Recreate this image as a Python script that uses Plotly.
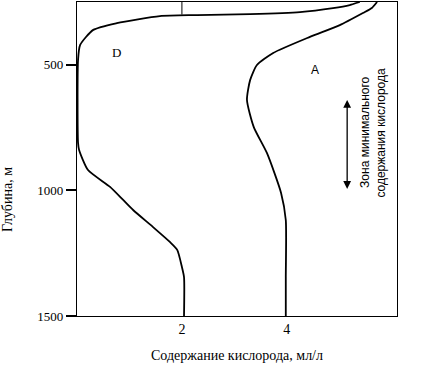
import plotly.graph_objects as go

# Curve D (oxygen, ml/l vs depth, m)
d_oxygen = [5.39, 5.20, 4.88, 4.25, 3.30, 2.29, 1.58, 0.76, 0.31, 0.06, 0.02, 0.02, 0.04, 0.21, 0.63, 0.88, 1.07, 1.45, 1.77, 1.91, 2.00, 2.04, 2.04]
d_depth = [250, 262, 274, 290, 298, 302, 306, 334, 361, 421, 480, 811, 839, 919, 986, 1038, 1078, 1146, 1205, 1237, 1305, 1345, 1500]

# Curve A
a_oxygen = [5.72, 5.62, 5.45, 5.01, 4.44, 3.74, 3.43, 3.30, 3.24, 3.37, 3.62, 3.89, 3.98, 3.98, 3.98]
a_depth = [250, 274, 294, 342, 389, 453, 501, 561, 640, 748, 851, 1010, 1118, 1345, 1500]

x_ticks = [2, 4]
x_tick_labels = ["2", "4"]
y_ticks = [500, 1000, 1500]
y_tick_labels = ["500", "1000", "1500"]

zone_top, zone_bottom = 640, 1000

serif = "Liberation Serif, Times New Roman, serif"
sans = "Liberation Sans, Arial, sans-serif"

fig = go.Figure()
fig.add_trace(go.Scatter(x=d_oxygen, y=d_depth, mode="lines", line=dict(color="black", width=1.8, shape="spline", smoothing=0.6), hoverinfo="skip"))
fig.add_trace(go.Scatter(x=a_oxygen, y=a_depth, mode="lines", line=dict(color="black", width=1.8, shape="spline", smoothing=0.6), hoverinfo="skip"))

# small tick at the top at x=2
fig.add_shape(type="line", x0=x_ticks[0], x1=x_ticks[0], y0=250, y1=300, line=dict(color="black", width=1))

fig.add_annotation(x=0.76, y=453, text="D", showarrow=False, font=dict(family=serif, size=13, color="black"))
fig.add_annotation(x=4.54, y=521, text="A", showarrow=False, font=dict(family=sans, size=12, color="black"))

fig.add_annotation(x=5.49, y=771, text="Зона минимального", textangle=-90, showarrow=False,
                   font=dict(family=sans, size=12, color="black"))
fig.add_annotation(x=5.79, y=771, text="содержания кислорода", textangle=-90, showarrow=False,
                   font=dict(family=sans, size=12, color="black"))

fig.add_annotation(x=5.15, y=zone_top, ax=5.15, ay=zone_bottom, xref="x", yref="y", axref="x", ayref="y",
                   text="", showarrow=True, arrowhead=2, arrowside="end+start", arrowsize=1.2, arrowwidth=1.3,
                   arrowcolor="black")

fig.add_annotation(x=-0.215, y=0.37, xref="paper", yref="paper", text="Глубина, м", textangle=-90,
                   showarrow=False, xanchor="center", yanchor="middle",
                   font=dict(family=serif, size=14, color="black"))

fig.update_layout(
    width=428, height=387,
    margin=dict(l=77, r=31, t=2, b=71),
    paper_bgcolor="white", plot_bgcolor="white",
    showlegend=False,
    xaxis=dict(range=[0, 6.1], tickvals=x_ticks, ticktext=x_tick_labels, showgrid=False, zeroline=False,
               showline=True, linecolor="black", linewidth=1.2, mirror=True, ticks="",
               tickfont=dict(family=serif, size=14, color="black"),
               title=dict(text="Содержание кислорода, мл/л", font=dict(family=serif, size=14, color="black"), standoff=14)),
    yaxis=dict(range=[1500, 250], tickvals=y_ticks, ticktext=y_tick_labels, showgrid=False, zeroline=False,
               showline=True, linecolor="black", linewidth=1.2, mirror=True, ticks="outside", ticklen=10,
               tickcolor="black", tickwidth=1.5,
               tickfont=dict(family=serif, size=13, color="black")),
)

fig.write_html("out.html", config={"displayModeBar": False},
               post_script="document.body.style.margin='0';document.body.style.padding='0';")
